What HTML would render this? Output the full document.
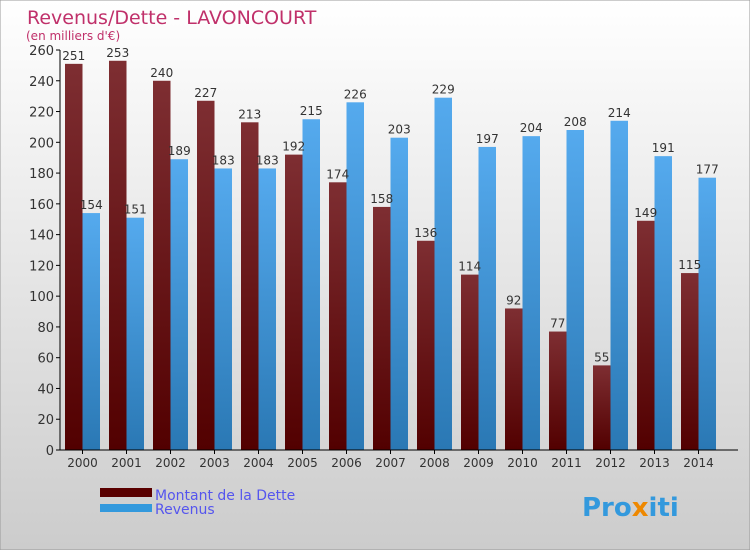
<!DOCTYPE html>
<html><head><meta charset="utf-8"><style>
body{margin:0}
svg text{font-family:"DejaVu Sans","Liberation Sans",sans-serif}
</style></head><body>
<svg width="750" height="550" xmlns="http://www.w3.org/2000/svg">
<defs>
<linearGradient id="bg" x1="0" y1="0" x2="0" y2="1"><stop offset="0" stop-color="#ffffff"/><stop offset="1" stop-color="#cccccc"/></linearGradient>
<linearGradient id="gd" x1="0" y1="0" x2="0" y2="1"><stop offset="0" stop-color="#7e2e32"/><stop offset="1" stop-color="#520000"/></linearGradient>
<linearGradient id="gr" x1="0" y1="0" x2="0" y2="1"><stop offset="0" stop-color="#55aaee"/><stop offset="1" stop-color="#2a78b4"/></linearGradient>
</defs>
<rect width="750" height="550" fill="url(#bg)" stroke="#999"/>
<text x="27" y="24" font-size="19" fill="#c0306a">Revenus/Dette - LAVONCOURT</text>
<text x="26" y="40" font-size="12" fill="#c0306a">(en milliers d'€)</text>
<g id="plot"></g>
<rect x="100" y="488" width="52" height="9" fill="#5a0000"/>
<rect x="100" y="504" width="52" height="8" fill="#3399dd"/>
<text x="155" y="500" font-size="14" fill="#5555ee">Montant de la Dette</text>
<text x="155" y="514" font-size="14" fill="#5555ee">Revenus</text>
<text x="582" y="516" font-size="26" font-weight="bold" fill="#3399dd">Pro<tspan fill="#ee8800">x</tspan>iti</text>
</svg>
<script>
const years=["2000","2001","2002","2003","2004","2005","2006","2007","2008","2009","2010","2011","2012","2013","2014"];
const dette=[251,253,240,227,213,192,174,158,136,114,92,77,55,149,115];
const revenus=[154,151,189,183,183,215,226,203,229,197,204,208,214,191,177];
const ticks=[0,20,40,60,80,100,120,140,160,180,200,220,240,260];
const NS="http://www.w3.org/2000/svg";
const g=document.getElementById('plot');
const y0=450,ppu=400/260,x0=65,gw=44,bw=17.5;
const Y=v=>y0-v*ppu;
function mk(t,a,txt){const e=document.createElementNS(NS,t);for(const k in a)e.setAttribute(k,a[k]);if(txt!=null)e.textContent=txt;g.appendChild(e);return e;}
ticks.forEach(t=>{
 const l=mk('line',{x1:56,x2:60,y1:Y(t),y2:Y(t),stroke:'#000'});
 
 
 const tx=mk('text',{x:54,y:Y(t)+5,'font-size':13,fill:'#333','text-anchor':'end'},t);
 
 
});
years.forEach((yr,i)=>{
 const x=x0+i*gw;
 const a=mk('rect',{x:x,y:Y(dette[i]),width:bw,height:dette[i]*ppu,fill:'url(#gd)'});
 
 
 const b=mk('rect',{x:x+bw,y:Y(revenus[i]),width:bw,height:revenus[i]*ppu,fill:'url(#gr)'});
 
 
 const la=mk('text',{x:x+bw/2,y:Y(dette[i])-4,'font-size':12,fill:'#333','text-anchor':'middle'},dette[i]);
 
 
 const lb=mk('text',{x:x+bw*1.5,y:Y(revenus[i])-4,'font-size':12,fill:'#333','text-anchor':'middle'},revenus[i]);
 
 
 const tk=mk('line',{x1:x+bw,x2:x+bw,y1:450,y2:454,stroke:'#000'});
 
 
 const xl=mk('text',{x:x+bw,y:467,'font-size':12,fill:'#333','text-anchor':'middle'},yr);
 
 
});
const ya=mk('line',{x1:60,x2:60,y1:50,y2:450,stroke:'#000'});


const xa=mk('line',{x1:60,x2:738,y1:450,y2:450,stroke:'#000'});


</script>
</body></html>
